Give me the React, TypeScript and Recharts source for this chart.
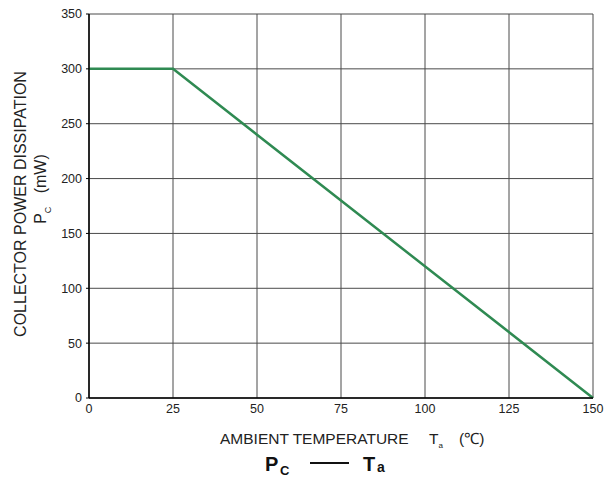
import React from 'react';
import { LineChart, Line, XAxis, YAxis, CartesianGrid } from 'recharts';

// Pc derating curve: flat to 25 °C, then linear down to zero at 150 °C
const temperatures = [0, 25, 150];
const powerMw = [300, 300, 0];
const xTicks = [0, 25, 50, 75, 100, 125, 150];
const yTicks = [0, 50, 100, 150, 200, 250, 300, 350];

const data = temperatures.map((t, i) => ({ t, pc: powerMw[i] }));

const FONT = '"Liberation Sans", Arial, sans-serif';

const abs = (left: number, top: number, extra: React.CSSProperties = {}): React.CSSProperties => ({
    position: 'absolute',
    left,
    top,
    whiteSpace: 'nowrap',
    lineHeight: 1,
    color: '#222',
    ...extra,
});

export default function App() {
    return (
        <div style={{ position: 'absolute', left: 0, top: 0, width: 613, height: 483, background: '#fff', fontFamily: FONT }}>
            <LineChart
                width={613}
                height={483}
                data={data}
                margin={{ top: 14, right: 20, bottom: 0, left: 0 }}
            >
                <CartesianGrid stroke="#4a4a4a" strokeWidth={1} />
                <XAxis
                    dataKey="t"
                    type="number"
                    domain={[0, 150]}
                    ticks={xTicks}
                    height={85}
                    tickLine={false}
                    tickSize={0}
                    tickMargin={6}
                    axisLine={{ stroke: '#000', strokeWidth: 1.5 }}
                    tick={{ fill: '#222', fontSize: 12.5, fontFamily: FONT }}
                />
                <YAxis
                    type="number"
                    domain={[0, 350]}
                    ticks={yTicks}
                    width={89}
                    tickSize={3}
                    tickMargin={4}
                    tickLine={{ stroke: '#000' }}
                    axisLine={{ stroke: '#000', strokeWidth: 1.5 }}
                    tick={{ fill: '#222', fontSize: 12.5, fontFamily: FONT }}
                />
                <Line
                    dataKey="pc"
                    type="linear"
                    stroke="#2f8a52"
                    strokeWidth={2.5}
                    dot={false}
                    isAnimationActive={false}
                />
            </LineChart>

            {/* y-axis title, two rotated lines */}
            <div style={abs(21, 204, { transform: 'translate(-50%, -50%) rotate(-90deg)', fontSize: 16 })}>
                COLLECTOR POWER DISSIPATION
            </div>
            <div style={abs(43, 189, { transform: 'translate(-50%, -50%) rotate(-90deg)', fontSize: 16 })}>
                P<sub style={{ fontSize: 9 }}>C</sub>&nbsp;&nbsp;&nbsp;(mW)
            </div>

            {/* x-axis title */}
            <div style={abs(220, 431, { fontSize: 15.5 })}>AMBIENT TEMPERATURE</div>
            <div style={abs(429, 431, { fontSize: 15.5 })}>
                T<sub style={{ fontSize: 8 }}>a</sub>
            </div>
            <div style={abs(459, 431, { fontSize: 15.5 })}>(℃)</div>

            {/* caption: Pc —— Ta */}
            <div style={abs(265, 454, { fontSize: 20, fontWeight: 'bold', color: '#111' })}>P</div>
            <div style={abs(280, 464, { fontSize: 13, fontWeight: 'bold', color: '#111' })}>C</div>
            <div style={abs(310, 462, { width: 39, height: 2, background: '#111' })} />
            <div style={abs(363, 454, { fontSize: 20, fontWeight: 'bold', color: '#111' })}>T</div>
            <div style={abs(377, 460, { fontSize: 14, fontWeight: 'bold', color: '#111' })}>a</div>
        </div>
    );
}
